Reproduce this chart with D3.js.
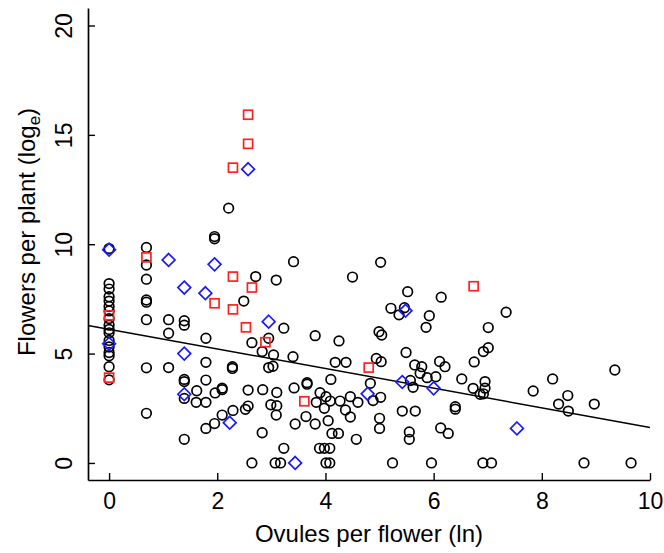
<!DOCTYPE html>
<html>
<head>
<meta charset="utf-8">
<script src="https://cdn.jsdelivr.net/npm/d3@7"></script>
<style>
	body { margin: 0; background: #fff; }
	svg text { font-family: "Liberation Sans", Arial, sans-serif; fill: #000; }
</style>
</head>
<body>
<div id="chart"></div>
<script>
// points: [ovules per flower (ln), flowers per plant (log e)]
const circlePts = [
	[0, 9.8], [0, 8.2], [0, 7.95], [0, 7.6], [0, 7.4], [0, 7.15], [0, 6.95], [0, 6.6], [0, 6.3], [0, 6.1],
	[0, 5.95], [0, 5.6], [0, 5.3], [0, 5.05], [0, 4.9], [0, 4.4], [0, 3.8],
	[0.69, 9.85], [0.69, 9.05], [0.69, 8.4], [0.69, 7.45], [0.69, 7.35], [0.69, 6.55], [0.69, 4.35], [0.69, 2.27],
	[1.1, 6.55], [1.1, 5.93], [1.1, 4.36],
	[1.39, 6.5], [1.39, 6.3], [1.39, 3.82], [1.39, 3.72], [1.39, 2.95], [1.39, 1.08],
	[1.79, 5.7], [1.79, 4.6], [1.79, 3.79], [1.62, 3.3], [1.61, 2.77], [1.79, 2.77], [1.79, 1.58],
	[1.95, 10.35], [1.95, 10.25], [1.96, 3.2], [1.95, 1.8],
	[2.09, 3.42], [2.09, 3.35], [2.09, 2.19],
	[2.21, 11.65], [2.28, 4.4], [2.28, 4.32], [2.29, 2.4],
	[2.49, 7.4], [2.52, 2.45], [2.57, 2.6], [2.57, 3.33],
	[2.71, 8.52], [2.64, 5.5], [2.64, 0],
	[2.83, 5.09], [2.84, 3.35], [2.83, 1.38],
	[2.95, 5.7], [3.04, 4.94], [2.95, 4.36], [3.03, 4.42], [3.09, 8.36], [3.1, 3.22], [2.99, 2.66], [3.1, 2.62],
	[3.09, 2.19], [3.07, 0], [3.17, 0],
	[3.23, 6.16], [3.23, 0.67],
	[3.41, 9.2], [3.4, 4.86], [3.42, 3.43], [3.44, 1.78],
	[3.66, 3.67], [3.66, 3.6], [3.64, 2.12],
	[3.81, 5.82], [3.9, 3.21], [3.83, 2.77], [3.81, 1.78], [3.89, 0.67],
	[4.01, 3.03], [3.98, 2.5], [4.05, 1.93], [3.98, 0.67], [4.08, 0.67], [4.1, 3.82], [4.09, 2.83], [4.12, 1.35],
	[4.01, 0], [4.08, 0],
	[4.25, 5.58], [4.18, 4.6], [4.27, 2.83], [4.24, 1.35],
	[4.38, 4.6], [4.37, 2.42], [4.46, 3.03], [4.46, 2.1], [4.5, 8.5], [4.6, 2.77], [4.57, 1.08],
	[4.83, 3.64], [4.94, 4.78], [5.03, 4.63], [4.88, 2.85], [5.02, 3.0], [5.0, 2.04], [5.0, 1.58], [5.02, 9.17],
	[4.99, 6.0], [5.04, 5.85],
	[5.21, 7.07], [5.36, 6.77], [5.24, 0], [5.46, 7.1],
	[5.52, 7.83], [5.49, 5.05], [5.57, 3.77], [5.62, 3.46], [5.42, 2.37], [5.66, 2.37], [5.55, 1.42], [5.55, 1.08],
	[5.65, 4.48], [5.78, 4.4], [5.75, 4.1], [5.88, 3.9], [5.92, 6.73], [5.86, 6.2], [5.96, 0],
	[6.04, 3.94], [6.14, 7.58], [6.11, 4.64], [6.21, 4.4], [6.13, 1.6], [6.27, 1.35],
	[6.4, 2.57], [6.4, 2.46], [6.52, 3.84],
	[6.75, 4.62], [6.73, 3.41], [7.01, 6.19], [7.01, 5.27], [6.92, 5.09], [6.95, 3.72], [6.95, 3.42], [6.92, 3.16],
	[6.86, 3.14], [6.91, 0], [7.07, 0],
	[7.34, 6.89],
	[7.84, 3.29], [8.2, 3.84], [8.48, 3.08], [8.31, 2.69], [8.49, 2.37], [8.97, 2.69], [9.35, 4.25], [8.78, 0], [9.65, 0]
];

const squarePts = [
	[0, 6.75], [0, 3.9], [0.69, 9.4], [1.95, 7.3], [2.29, 8.52], [2.29, 7.02], [2.29, 13.5], [2.57, 15.92],
	[2.57, 14.59], [2.64, 8.02], [2.53, 6.2], [2.89, 5.52], [3.61, 2.82], [4.8, 4.36], [6.74, 8.08]
];

const diamondPts = [
	[0, 9.75], [0, 5.45], [1.1, 9.28], [1.39, 8.02], [1.39, 5.0], [1.39, 3.14], [1.78, 7.76], [1.95, 9.08],
	[2.23, 1.84], [2.57, 13.43], [2.95, 6.46], [3.44, 0], [4.78, 3.16], [5.42, 3.7], [5.48, 6.96], [6.0, 3.41],
	[7.54, 1.58]
];

// fitted line: intercept, slope
const fitIntercept = 6.11;
const fitSlope = -0.449;

const xTicks = [0, 2, 4, 6, 8, 10];
const yTicks = [0, 5, 10, 15, 20];
const xTitle = "Ovules per flower (ln)";
const yTitle = "Flowers per plant (log";
const yTitleSub = "e";

const width = 664, height = 553;
const margin = {left: 88, right: 14, top: 8, bottom: 73};

const svg = d3.select("#chart")
	.append("svg")
	.attr("width", width)
	.attr("height", height);

const x = d3.scaleLinear()
	.domain([-0.39, 10])
	.range([margin.left, width - margin.right]);

const y = d3.scaleLinear()
	.domain([-0.78, 20.8])
	.range([height - margin.bottom, margin.top]);

// axes, ticks pointing inward
const xAxis = svg.append("g")
	.attr("transform", `translate(0,${height - margin.bottom})`)
	.call(d3.axisBottom(x).tickValues(xTicks).tickSizeInner(-7).tickSizeOuter(0).tickPadding(13));

const yAxis = svg.append("g")
	.attr("transform", `translate(${margin.left},0)`)
	.call(d3.axisLeft(y).tickValues(yTicks).tickSizeInner(-7).tickSizeOuter(0));

[xAxis, yAxis].forEach(g => {
	g.select(".domain").attr("stroke", "#000").attr("stroke-width", 1.7);
	g.selectAll(".tick line").attr("stroke", "#000").attr("stroke-width", 1.4);
	g.selectAll(".tick text").attr("font-size", 23).attr("font-family", null);
});

yAxis.selectAll(".tick text")
	.attr("transform", "rotate(-90)")
	.attr("text-anchor", "middle")
	.attr("x", 0)
	.attr("y", -16)
	.attr("dy", 0);

// axis titles
svg.append("text")
	.attr("x", (margin.left + width - margin.right) / 2)
	.attr("y", 542)
	.attr("text-anchor", "middle")
	.attr("font-size", 24)
	.text(xTitle);

const yt = svg.append("text")
	.attr("transform", "translate(35,232) rotate(-90)")
	.attr("text-anchor", "middle")
	.attr("font-size", 24);
yt.append("tspan").text(yTitle);
yt.append("tspan").attr("font-size", 17).attr("dy", 5).text(yTitleSub);
yt.append("tspan").attr("dy", -5).text(")");

// regression line across the plot region
const xd = x.domain();
svg.append("line")
	.attr("x1", x(xd[0]))
	.attr("y1", y(fitIntercept + fitSlope * xd[0]))
	.attr("x2", x(xd[1]))
	.attr("y2", y(fitIntercept + fitSlope * xd[1]))
	.attr("stroke", "#000")
	.attr("stroke-width", 1.5);

// points
svg.append("g")
	.attr("fill", "none")
	.attr("stroke", "#000")
	.attr("stroke-width", 1.7)
	.selectAll("circle")
	.data(circlePts).enter()
	.append("circle")
	.attr("cx", d => x(d[0]))
	.attr("cy", d => y(d[1]))
	.attr("r", 4.8);

const sq = 9;
svg.append("g")
	.attr("fill", "none")
	.attr("stroke", "#ff2020")
	.attr("stroke-width", 1.7)
	.selectAll("rect")
	.data(squarePts).enter()
	.append("rect")
	.attr("x", d => x(d[0]) - sq / 2)
	.attr("y", d => y(d[1]) - sq / 2)
	.attr("width", sq)
	.attr("height", sq);

const dr = 6.4;
svg.append("g")
	.attr("fill", "none")
	.attr("stroke", "#1a1aff")
	.attr("stroke-width", 1.7)
	.selectAll("path")
	.data(diamondPts).enter()
	.append("path")
	.attr("d", d => {
		const cx = x(d[0]), cy = y(d[1]);
		return `M${cx},${cy - dr}L${cx + dr},${cy}L${cx},${cy + dr}L${cx - dr},${cy}Z`;
	});
</script>
</body>
</html>
